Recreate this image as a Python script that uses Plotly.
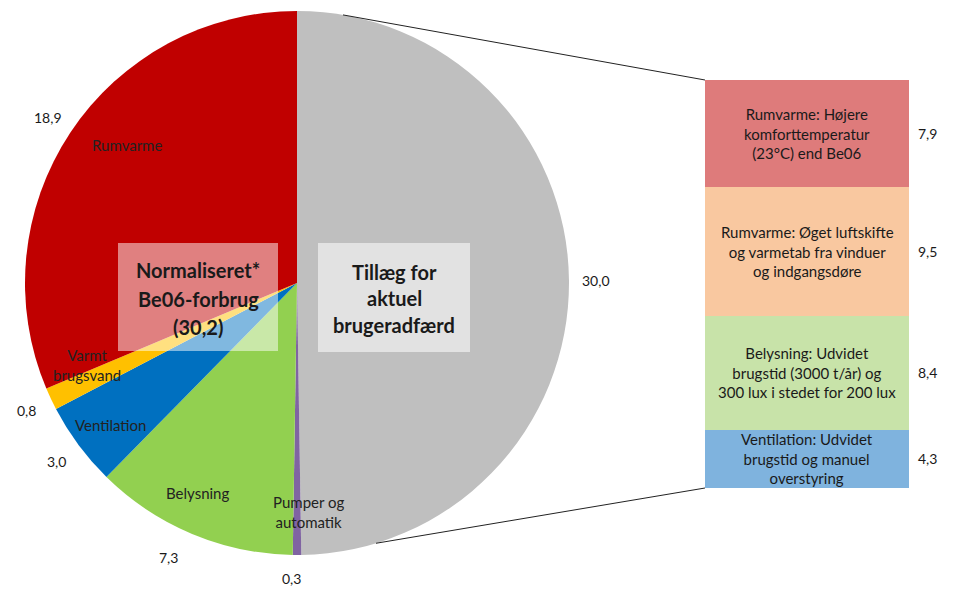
import math
import plotly.graph_objects as go

# ---------------- data ----------------
pie_labels = ["Tillæg for aktuel brugeradfærd", "Pumper og automatik", "Belysning",
              "Ventilation", "Varmt brugsvand", "Rumvarme"]
pie_values = [30.0, 0.3, 7.3, 3.0, 0.8, 18.9]
pie_value_text = ["30,0", "0,3", "7,3", "3,0", "0,8", "18,9"]
pie_colors = ["#bfbfbf", "#8064a2", "#92d050", "#0070c0", "#ffc000", "#c00000"]

bar_labels = ["Ventilation: Udvidet<br>brugstid og manuel<br>overstyring",
              "Belysning: Udvidet<br>brugstid (3000 t/år) og<br>300 lux i stedet for 200 lux",
              "Rumvarme: Øget luftskifte<br>og varmetab fra vinduer<br>og indgangsdøre",
              "Rumvarme: Højere<br>komforttemperatur<br>(23°C) end Be06"]
bar_values = [4.3, 8.4, 9.5, 7.9]
bar_value_text = ["4,3", "8,4", "9,5", "7,9"]
bar_colors = ["#7fb3de", "#c8e3a9", "#f9c8a0", "#de7b7b"]

W, H = 954, 590
FONT = "Lato"
TXT = "#1a1a1a"

def px(x):
    return x / W

def py(y):
    return 1 - y / H

# pie geometry (pixels)
cx, cy, R = 297, 283, 272

fig = go.Figure()
fig.add_trace(go.Pie(
    labels=pie_labels, values=pie_values, sort=False, direction="clockwise", rotation=0,
    marker=dict(colors=pie_colors, line=dict(width=0)),
    textinfo="none", hoverinfo="label+value", showlegend=False,
    domain=dict(x=[px(cx - R), px(cx + R)], y=[py(cy + R), py(cy - R)]),
))

for lab, v, c in zip(bar_labels, bar_values, bar_colors):
    fig.add_trace(go.Bar(x=[0], y=[v], marker=dict(color=c, line=dict(width=0)),
                         width=1, name=lab, showlegend=False, hoverinfo="y"))

total_bar = sum(bar_values)
annotations = []

def ann(x, y, text, size=14, color=TXT, xref="paper", yref="paper"):
    annotations.append(dict(x=x, y=y, xref=xref, yref=yref, text=text, showarrow=False,
                            xanchor="center", yanchor="middle",
                            font=dict(family=FONT, size=size, color=color)))

# value labels around the pie (at mid-angle, just outside)
total = sum(pie_values)
cum = 0
for v, t in zip(pie_values, pie_value_text):
    mid = (cum + v / 2) / total * 2 * math.pi
    cum += v
    r = R * 1.10
    x = cx + r * math.sin(mid)
    y = cy - r * math.cos(mid)
    if t == "7,3":
        x, y = 168, 557
    if t == "0,3":
        x, y = 291, 578
    ann(px(x), py(y), t)

# category labels inside slices
inner = [("Rumvarme", 127, 145), ("Varmt<br>brugsvand", 87, 365),
         ("Ventilation", 110, 425), ("Belysning", 197, 493),
         ("Pumper og<br>automatik", 308, 512)]
for t, x, y in inner:
    ann(px(x), py(y), t, size=15, color="#222222")

# overlay box texts
for t, x, y in [("Normaliseret*", 198, 270), ("Be06-forbrug", 198, 299), ("(30,2)", 198, 327),
                ("Tillæg for", 394, 272), ("aktuel", 394, 298), ("brugeradfærd", 394, 325)]:
    ann(px(x), py(y), "<b>" + t + "</b>", size=20)

# bar segment texts and values
cum = 0
for lab, v, t in zip(bar_labels, bar_values, bar_value_text):
    mid = cum + v / 2
    cum += v
    ann(0, mid, lab, size=15, xref="x", yref="y")
    ann(px(927), mid, t, yref="y")

# overlay boxes and connector lines
bx0, bx1, by_top, by_bot = 705, 909, 80, 488
ux = 343
uy = cy - math.sqrt(R ** 2 - (ux - cx) ** 2)
lx = 376
ly = cy + math.sqrt(R ** 2 - (lx - cx) ** 2)
shapes = [
    dict(type="rect", xref="paper", yref="paper", x0=px(118), x1=px(278), y0=py(351), y1=py(243),
         fillcolor="rgba(255,255,255,0.5)", line=dict(width=0), layer="above"),
    dict(type="rect", xref="paper", yref="paper", x0=px(318), x1=px(470), y0=py(352), y1=py(243),
         fillcolor="rgba(255,255,255,0.55)", line=dict(width=0), layer="above"),
    dict(type="line", xref="paper", yref="paper", x0=px(ux), y0=py(uy), x1=px(bx0), y1=py(by_top),
         line=dict(color="#222222", width=1)),
    dict(type="line", xref="paper", yref="paper", x0=px(lx), y0=py(ly), x1=px(bx0), y1=py(by_bot),
         line=dict(color="#222222", width=1)),
]

fig.update_layout(
    width=W, height=H, margin=dict(l=0, r=0, t=0, b=0),
    paper_bgcolor="white", plot_bgcolor="rgba(0,0,0,0)",
    barmode="stack", bargap=0,
    xaxis=dict(domain=[px(bx0), px(bx1)], range=[-0.5, 0.5], visible=False, fixedrange=True),
    yaxis=dict(domain=[py(by_bot), py(by_top)], range=[0, total_bar], visible=False, fixedrange=True),
    annotations=annotations, shapes=shapes,
    font=dict(family=FONT),
)

fig.write_html("out.html")
